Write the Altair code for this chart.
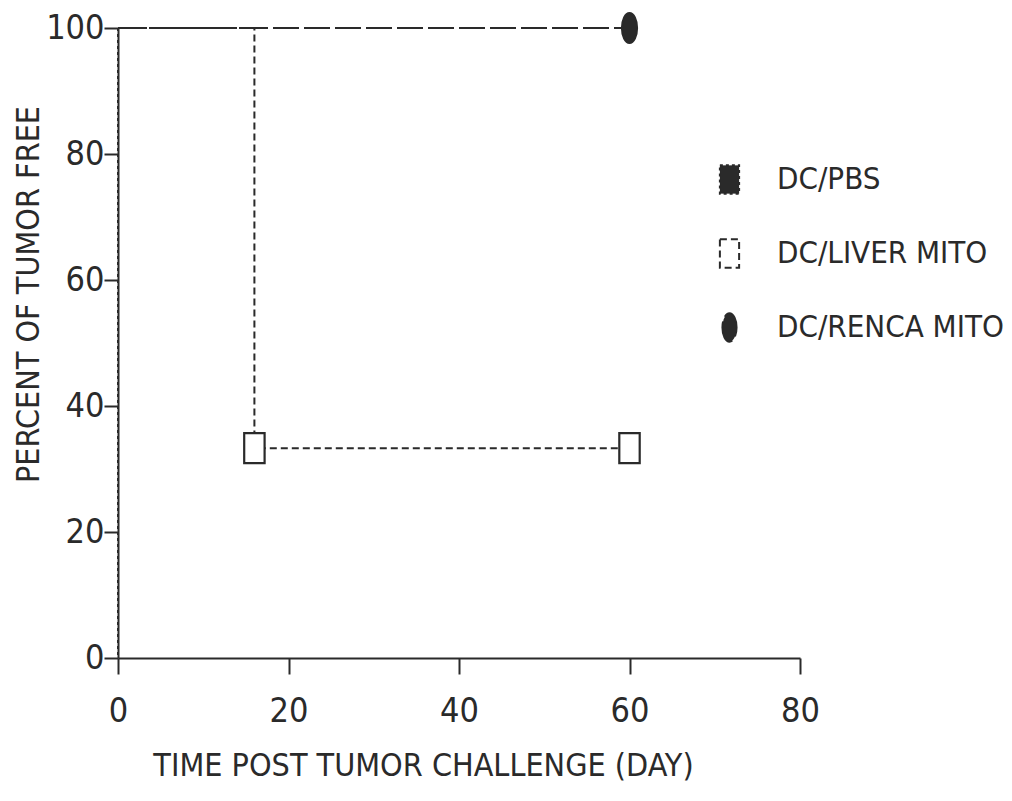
import altair as alt
import pandas as pd

series_names = ["DC/PBS", "DC/LIVER MITO", "DC/RENCA MITO"]

# step-curve vertices (day, percent tumor free)
pbs_days = [0, 0]
pbs_pct = [100, 0]
liver_days = [0, 16, 16, 60]
liver_pct = [100, 100, 33.3, 33.3]
renca_days = [0, 60]
renca_pct = [100, 100]

# marker positions
liver_mark_days = [16, 60]
liver_mark_pct = [33.3, 33.3]
renca_mark_days = [60]
renca_mark_pct = [100]

x_ticks = [0, 20, 40, 60, 80]
y_ticks = [0, 20, 40, 60, 80, 100]

rows = []
for i, (d, p) in enumerate(zip(pbs_days, pbs_pct)):
    rows.append({"series": series_names[0], "day": d, "pct": p, "order": i})
for i, (d, p) in enumerate(zip(liver_days, liver_pct)):
    rows.append({"series": series_names[1], "day": d, "pct": p, "order": i})
for i, (d, p) in enumerate(zip(renca_days, renca_pct)):
    rows.append({"series": series_names[2], "day": d, "pct": p, "order": i})
lines_df = pd.DataFrame(rows)

mrows = []
for d, p in zip(liver_mark_days, liver_mark_pct):
    mrows.append({"series": series_names[1], "day": d, "pct": p})
for d, p in zip(renca_mark_days, renca_mark_pct):
    mrows.append({"series": series_names[2], "day": d, "pct": p})
marks_df = pd.DataFrame(mrows)

FONT = "Liberation Sans Narrow, DejaVu Sans Condensed, sans-serif"
INK = "#2a2a2a"

rect_path = "M-0.68,-1H0.68V1H-0.68Z"
ellipse_path = "M0,-1A0.5,1 0 1,1 0,1A0.5,1 0 1,1 0,-1Z"

legend_def = alt.Legend(title=None, orient="none", legendX=596, legendY=136,
                        labelFontSize=31, labelFont=FONT, labelColor=INK, labelLimit=400,
                        symbolSize=800, symbolStrokeWidth=2, symbolStrokeColor=INK,
                        rowPadding=37, labelOffset=32, padding=0)

x_enc = alt.X("day:Q", scale=alt.Scale(domain=[0, 80], nice=False),
              axis=alt.Axis(values=x_ticks, title="TIME POST TUMOR CHALLENGE (DAY)",
                            labelPadding=20, titlePadding=22, tickSize=16, titleX=305,
                            labelFlush=False))
y_enc = alt.Y("pct:Q", scale=alt.Scale(domain=[0, 100], nice=False),
              axis=alt.Axis(values=y_ticks, title="PERCENT OF TUMOR FREE",
                            labelPadding=0, titlePadding=0, tickSize=14, titleY=266,
                            labelFlush=False))

lines = alt.Chart(lines_df).mark_line(color=INK, strokeWidth=2, interpolate="linear").encode(
    x=x_enc,
    y=y_enc,
    detail="series:N",
    order="order:Q",
    strokeDash=alt.StrokeDash("series:N",
                              scale=alt.Scale(domain=series_names,
                                              range=[[3, 3], [7, 4], [26, 5]]),
                              legend=legend_def),
)

points = alt.Chart(marks_df).mark_point(filled=False, strokeWidth=2.2, opacity=1).encode(
    x="day:Q",
    y="pct:Q",
    shape=alt.Shape("series:N",
                    scale=alt.Scale(domain=series_names,
                                    range=[rect_path, rect_path, ellipse_path]),
                    legend=legend_def),
    fill=alt.Fill("series:N",
                  scale=alt.Scale(domain=series_names, range=[INK, "white", INK]),
                  legend=legend_def),
    stroke=alt.Stroke("series:N",
                      scale=alt.Scale(domain=series_names, range=[INK, INK, INK]),
                      legend=legend_def),
    size=alt.value(900),
)

chart = alt.layer(lines, points).properties(
    width=682, height=630, background="white",
    padding={"left": 4, "top": 0, "right": 0, "bottom": 5}
).configure_view(
    stroke=None
).configure_axis(
    grid=False,
    domainColor=INK, domainWidth=2,
    tickColor=INK, tickWidth=2,
    labelFont=FONT, labelFontSize=34, labelColor=INK,
    titleFont=FONT, titleFontSize=32, titleColor=INK, titleFontWeight="normal",
)

chart.save("out.html", embed_options={"renderer": "svg", "actions": False})
